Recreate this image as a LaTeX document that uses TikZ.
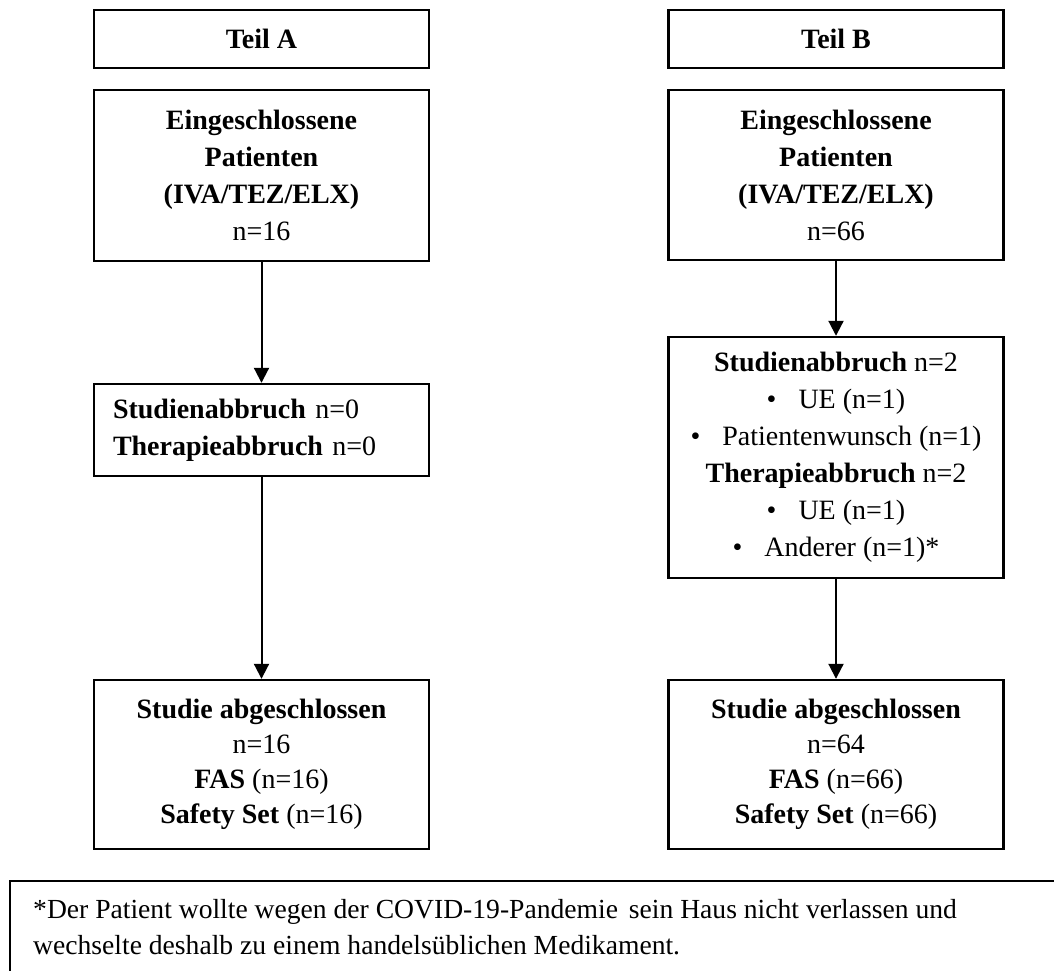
\documentclass[tikz,border=0pt]{standalone}
\usepackage{fontspec}
\setmainfont{Liberation Serif}
\usetikzlibrary{arrows.meta}
\begin{document}
\begin{tikzpicture}[x=1pt,y=-1pt,
  box/.style={draw, line width=2.4pt, minimum width=335pt, inner sep=0pt,
    align=center, font=\fontsize{28}{37}\selectfont},
  flow/.style={line width=2pt, -{Triangle[width=15pt,length=15pt]}},
  note/.style={font=\fontsize{27.6}{36}\selectfont, inner sep=0pt, align=left}]
\useasboundingbox (0,0) rectangle (1054,971);
\clip (0,0) rectangle (1054,971);

% column headers
\node[box, minimum height=58pt] (ta) at (261.5,39) {\textbf{Teil A}};
\node[box, minimum height=58pt] (tb) at (836,39) {\textbf{Teil B}};

% enrolled patients
\node[box, minimum height=171pt] (a1) at (261.5,175.5)
  {\textbf{Eingeschlossene}\\\textbf{Patienten}\\\textbf{(IVA/TEZ/ELX)}\\n=16};
\node[box, minimum height=170pt] (b1) at (836,175)
  {\textbf{Eingeschlossene}\\\textbf{Patienten}\\\textbf{(IVA/TEZ/ELX)}\\n=66};

% discontinuations
\node[box, minimum height=92pt, text width=297pt, align=left, inner xsep=19pt] (a2) at (261.5,430)
  {\textbf{Studienabbruch} n=0\\\textbf{Therapieabbruch} n=0};
\node[box, minimum height=241pt] (b2) at (836,457.5)
  {\textbf{Studienabbruch} n=2\\
   \textbullet\hspace{22pt}UE (n=1)\\
   \textbullet\hspace{22pt}Patientenwunsch (n=1)\\
   \textbf{Therapieabbruch} n=2\\
   \textbullet\hspace{22pt}UE (n=1)\\
   \textbullet\hspace{22pt}Anderer (n=1)*};

% completed
\node[box, minimum height=169pt, font=\fontsize{28}{35}\selectfont] (a3) at (261.5,764.5)
  {\textbf{Studie abgeschlossen}\\n=16\\\textbf{FAS} (n=16)\\\textbf{Safety Set} (n=16)};
\node[box, minimum height=169pt, font=\fontsize{28}{35}\selectfont] (b3) at (836,764.5)
  {\textbf{Studie abgeschlossen}\\n=64\\\textbf{FAS} (n=66)\\\textbf{Safety Set} (n=66)};

% flow arrows
\draw[flow] (a1) -- (a2);
\draw[flow] (a2) -- (a3);
\draw[flow] (b1) -- (b2);
\draw[flow] (b2) -- (b3);

% footnote frame, running past the page edges
\draw[line width=2.4pt] (1070,881) -- (10,881) -- (10,990);
\node[note, anchor=north west] (fn) at (33,899)
  {*Der Patient wollte wegen der COVID-19-Pandemie\hspace{4pt} sein Haus nicht verlassen und\\
   wechselte deshalb zu einem handelsüblichen Medikament.};
\end{tikzpicture}
\end{document}
